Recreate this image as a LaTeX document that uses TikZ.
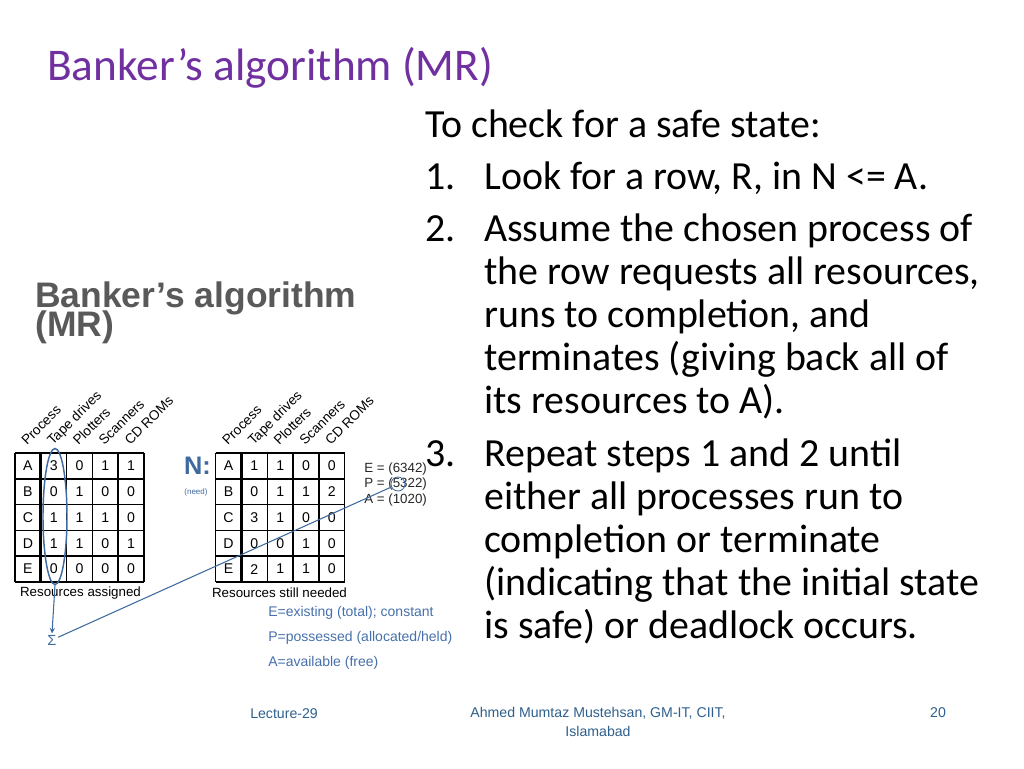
\documentclass[tikz,border=0pt]{standalone}
\usepackage{fontspec}
\setmainfont{Carlito}
\newfontfamily\arialfont{Liberation Sans}
\usetikzlibrary{shapes.geometric}

\definecolor{titlepurple}{RGB}{112,48,160}
\definecolor{markblue}{RGB}{62,106,160}
\definecolor{notesblue}{RGB}{70,112,172}
\definecolor{footblue}{RGB}{45,95,140}
\definecolor{headgray}{RGB}{89,89,89}

\tikzset{
  cell/.style={font=\arialfont\fontsize{10.6}{12}\selectfont,inner sep=0pt},
  colhead/.style={font=\arialfont\fontsize{10.2}{12}\selectfont,rotate=45,anchor=base west,inner sep=0pt},
  bodyline/.style={anchor=base west,inner sep=0pt,font=\fontsize{29.9}{36}\selectfont},
  smalltext/.style={font=\arialfont\fontsize{10}{12}\selectfont,inner sep=0pt},
  foot/.style={font=\arialfont\fontsize{10.6}{12}\selectfont,color=footblue,inner sep=0pt}
}

\begin{document}
\begin{tikzpicture}[x=0.75pt,y=-0.75pt]
  \useasboundingbox (0,0) rectangle (1024,768);

  \node[anchor=base west,inner sep=0pt,color=titlepurple,font=\fontsize{34}{40}\selectfont] (title) at (47,80) {Banker’s algorithm (MR)};

  % picture on the left
  \node[anchor=base west,inner sep=0pt,color=headgray,font=\arialfont\bfseries\fontsize{26.6}{30}\selectfont] (pichead) at (35,307) {Banker’s algorithm};
  \node[anchor=base west,inner sep=0pt,color=headgray,font=\arialfont\bfseries\fontsize{26.6}{30}\selectfont] (picheadb) at (35,336) {(MR)};

  % grids
  \foreach \x in {15,215.7} {
    \foreach \i in {0,2,3,4,5}
      \draw[line width=1.1pt] (\x+25.8*\i,453) -- ++(0,129);
    \draw[line width=2pt] (\x+25.8,453) -- ++(0,129);
    \foreach \j in {0,...,5}
      \draw[line width=1.1pt] (\x,453+25.8*\j) -- ++(129,0);
    \foreach \h [count=\i] in {Process,Tape drives,Plotters,Scanners,CD ROMs}
      \node[colhead] at (\x+25.8*\i-12.9-1,446) {\h};
  }

  \foreach \p/\a/\b/\c/\d [count=\r] in {A/3/0/1/1,B/0/1/0/0,C/1/1/1/0,D/1/1/0/1,E/0/0/0/0} {
    \node[cell] (as-\r-0) at (27.9,{453+25.8*(\r-0.5)}) {\p};
    \node[cell] (as-\r-1) at (53.7,{453+25.8*(\r-0.5)}) {\a};
    \node[cell] (as-\r-2) at (79.5,{453+25.8*(\r-0.5)}) {\b};
    \node[cell] (as-\r-3) at (105.3,{453+25.8*(\r-0.5)}) {\c};
    \node[cell] (as-\r-4) at (131.1,{453+25.8*(\r-0.5)}) {\d};
  }
  \foreach \p/\a/\b/\c/\d [count=\r] in {A/1/1/0/0,B/0/1/1/2,C/3/1/0/0,D/0/0/1/0,E/2/1/1/0} {
    \node[cell] (nd-\r-0) at (228.6,{453+25.8*(\r-0.5)}) {\p};
    \node[cell] (nd-\r-1) at (254.4,{453+25.8*(\r-0.5)}) {\a};
    \node[cell] (nd-\r-2) at (280.2,{453+25.8*(\r-0.5)}) {\b};
    \node[cell] (nd-\r-3) at (306,{453+25.8*(\r-0.5)}) {\c};
    \node[cell] (nd-\r-4) at (331.8,{453+25.8*(\r-0.5)}) {\d};
  }

  \node[smalltext] (assigned) at (80.5,593) {Resources assigned};
  \node[smalltext] (needed) at (279.5,593) {Resources still needed};

  \node[inner sep=0pt,color=markblue,font=\arialfont\bfseries\fontsize{19}{22}\selectfont] (nlabel) at (197.5,466) {N:};
  \node[inner sep=0pt,color=markblue,font=\arialfont\fontsize{6}{7}\selectfont] (needlabel) at (196,492) {(need)};

  \node[smalltext,anchor=west,color=black!85] (evec) at (364,469) {E = (6342)};
  \node[smalltext,anchor=west,color=black!85] (pvec) at (364,484) {P = (5322)};
  \node[smalltext,anchor=west,color=black!85] (avec) at (364,500) {A = (1020)};

  \node[smalltext,anchor=west,color=notesblue,font=\arialfont\fontsize{10.5}{12}\selectfont] (enote) at (268,613) {E=existing (total); constant};
  \node[smalltext,anchor=west,color=notesblue,font=\arialfont\fontsize{10.5}{12}\selectfont] (pnote) at (268,638) {P=possessed (allocated/held)};
  \node[smalltext,anchor=west,color=notesblue,font=\arialfont\fontsize{10.5}{12}\selectfont] (anote) at (268,663) {A=available (free)};

  % sum of one column
  \node[ellipse,draw=markblue,line width=1.1pt,minimum width=18pt,minimum height=102pt,inner sep=0pt] (tapecol) at (55,516.5) {};
  \node[inner sep=1pt,color=markblue,font=\arialfont\fontsize{11}{13}\selectfont] (sigma) at (52,640) {Σ};
  \node[circle,draw=markblue,line width=0.6pt,minimum size=10.5pt,inner sep=0pt] (five) at (398,484) {};
  \draw[->,>=stealth,color=markblue,line width=0.8pt] (tapecol.south) -- (sigma.north);
  \draw[color=markblue,line width=0.8pt] (sigma) -- (five);

  % text on the right
  \node[bodyline] (intro) at (425,137) {To check for a safe state:};
  \node[bodyline] (num1) at (425,189) {1.};
  \node[bodyline] (s1a) at (484,189) {Look for a row, R, in N <= A.};
  \node[bodyline] (num2) at (425,241) {2.};
  \node[bodyline] (s2a) at (484,241) {Assume the chosen process of};
  \node[bodyline] (s2b) at (484,284) {the row requests all resources,};
  \node[bodyline] (s2c) at (484,327) {runs to completion, and};
  \node[bodyline] (s2d) at (484,370) {terminates (giving back all of};
  \node[bodyline] (s2e) at (484,413) {its resources to A).};
  \node[bodyline] (num3) at (425,466) {3.};
  \node[bodyline] (s3a) at (484,466) {Repeat steps 1 and 2 until};
  \node[bodyline] (s3b) at (484,509) {either all processes run to};
  \node[bodyline] (s3c) at (484,552) {completion or terminate};
  \node[bodyline] (s3d) at (484,595) {(indicating that the initial state};
  \node[bodyline] (s3e) at (484,638) {is safe) or deadlock occurs.};

  % footer
  \node[foot,anchor=west] (lecture) at (250,714) {Lecture-29};
  \node[foot] (author) at (598,713) {Ahmed Mumtaz Mustehsan, GM-IT, CIIT,};
  \node[foot] (place) at (598,731) {Islamabad};
  \node[foot] (page) at (938,713) {20};
\end{tikzpicture}
\end{document}
